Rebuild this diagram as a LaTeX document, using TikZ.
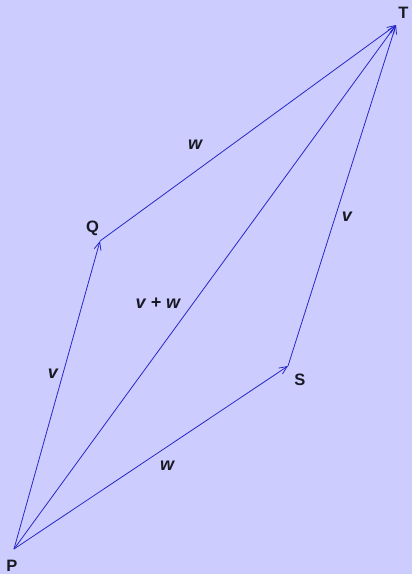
\documentclass[tikz,border=0pt]{standalone}
\usepackage{fontspec}
\setmainfont{Liberation Sans}
\usetikzlibrary{positioning, arrows.meta, calc}
\definecolor{bgviolet}{RGB}{204,204,255}
\definecolor{vecblue}{RGB}{40,40,200}
\definecolor{labgray}{RGB}{25,25,35}

\begin{document}
\begin{tikzpicture}[x=1pt,y=-1pt]
					% styles
					\tikzset{
						vec/.style={
							draw=vecblue, line width=0.8pt,
							-{Straight Barb[length=8pt,width=7pt,line width=0.8pt]}
						},
						pt/.style={
							font=\fontsize{16.5}{18}\selectfont\bfseries, text=labgray, inner sep=1pt
						},
						lab/.style={
							font=\fontsize{18}{20}\selectfont\bfseries\itshape, text=labgray, inner sep=1pt
						}
					}
					
					% background
					\fill[bgviolet] (0,0) rectangle (412,574);
					\useasboundingbox (0,0) rectangle (412,574);
					
					% corner points
					\coordinate (p) at (14,549);
					\coordinate (q) at (100,241);
					\coordinate (s) at (288,366);
					\coordinate (t) at (396,25);
					
					% point names
					\node[pt] (plab) at (12,565.5) {P};
					\node[pt] (qlab) at (92.5,228) {Q};
					\node[pt] (slab) at (300,380) {S};
					\node[pt] (tlab) at (403.5,12.5) {T};
					
					% vectors
					\draw[vec] (p) -- (q);
					\draw[vec] (q) -- (t);
					\draw[vec] (p) -- (s);
					\draw[vec] (s) -- (t);
					\draw[vec] (p) -- (t);
					
					% vector names
					\node[lab] (vl) at (53,374) {v};
					\node[lab] (wt) at (195,145) {w};
					\node[lab] (vr) at (347,217) {v};
					\node[lab] (wb) at (167,466) {w};
					\node[lab] (vw) at (158,303) {v + w};
				\end{tikzpicture}
\end{document}
